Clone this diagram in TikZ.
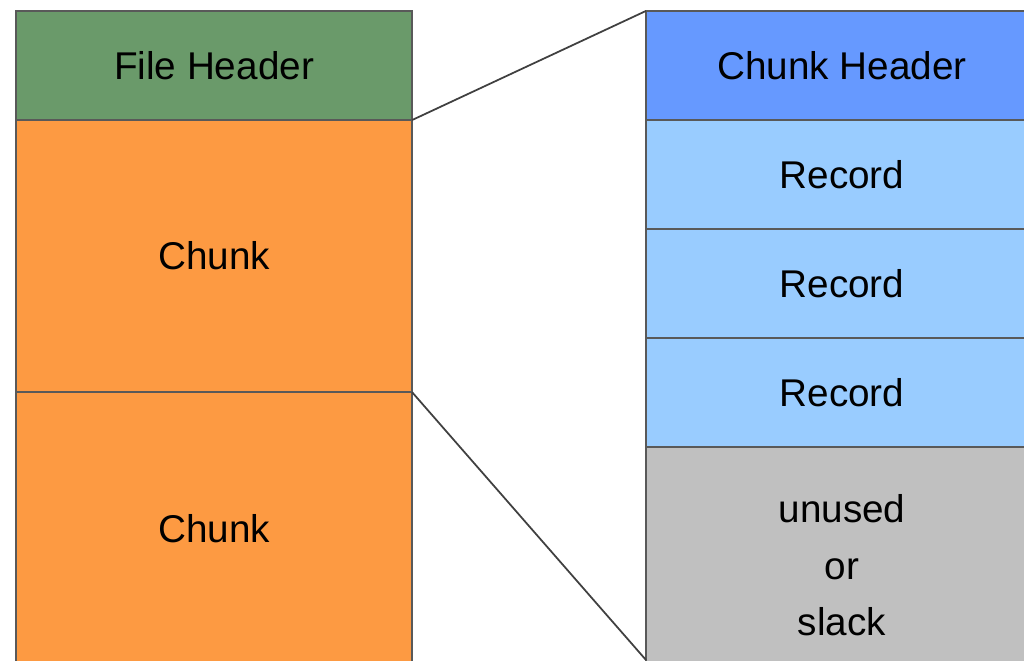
\documentclass[tikz,border=0pt]{standalone}
\usepackage{fontspec}
\setmainfont{Liberation Sans}
\usetikzlibrary{positioning}

\definecolor{hdrgreen}{RGB}{106,154,106}
\definecolor{chunkorange}{RGB}{253,154,66}
\definecolor{hdrblue}{RGB}{102,153,255}
\definecolor{recblue}{RGB}{153,204,255}
\definecolor{slackgray}{RGB}{192,192,192}

\begin{document}
\begin{tikzpicture}[x=0.01cm, y=-0.01cm,
	block/.style={draw=black!65, line width=0.5pt, rectangle, inner sep=0pt, outer sep=0pt,
		font=\fontsize{11}{16}\selectfont, align=center},
	leftblock/.style={block, minimum width=3.96cm},
	rightblock/.style={block, minimum width=3.92cm},
	zoomline/.style={draw=black!75, line width=0.5pt}]
	\useasboundingbox (0,0) rectangle (1024,660);
	\clip (0,0) rectangle (1024,660);

	% file on the left
	\node[leftblock, fill=hdrgreen, minimum height=1.09cm] (fhead) at (214,65.5) {File Header};
	\node[leftblock, fill=chunkorange, minimum height=2.72cm, below=0pt of fhead] (chunka) {Chunk};
	\node[leftblock, fill=chunkorange, minimum height=2.72cm, below=0pt of chunka] (chunkb) {Chunk};

	% one chunk, opened up
	\node[rightblock, fill=hdrblue, minimum height=1.09cm] (chead) at (842,65.5) {Chunk Header};
	\node[rightblock, fill=recblue, minimum height=1.09cm, below=0pt of chead] (reca) {Record};
	\node[rightblock, fill=recblue, minimum height=1.09cm, below=0pt of reca] (recb) {Record};
	\node[rightblock, fill=recblue, minimum height=1.09cm, below=0pt of recb] (recc) {Record};
	\node[rightblock, fill=slackgray, minimum height=2.36cm, below=0pt of recc] (slack) {unused\\or\\slack};

	\coordinate (slackfoot) at (646,660);
	\draw[zoomline] (fhead.south east) -- (chead.north west);
	\draw[zoomline] (chunka.south east) -- (slackfoot);
\end{tikzpicture}
\end{document}
